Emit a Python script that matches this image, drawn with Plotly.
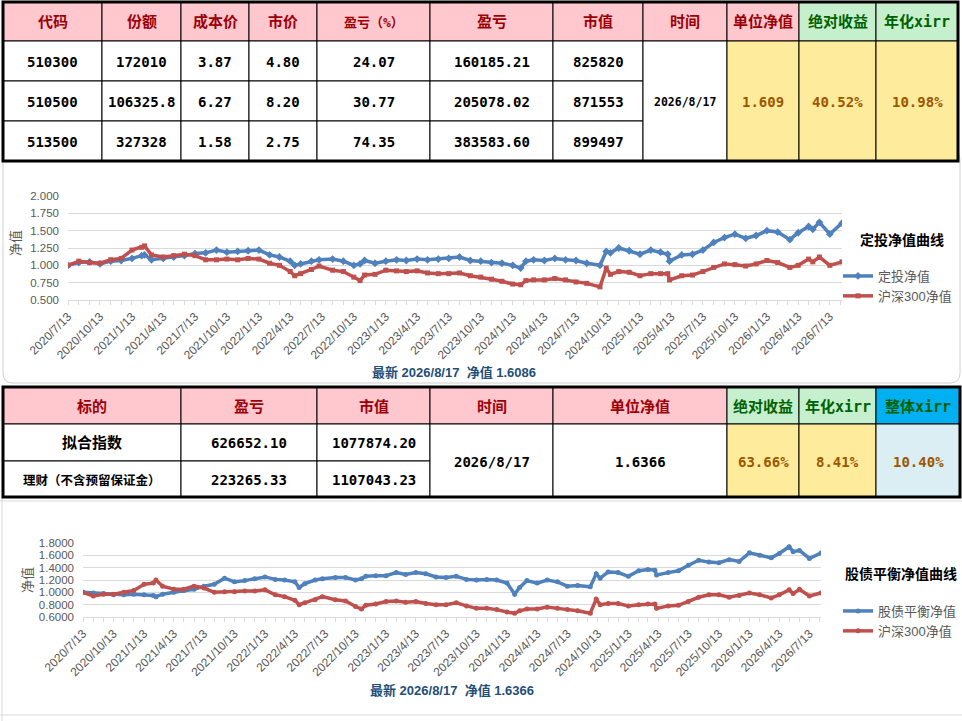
import pandas as pd
import plotly.graph_objects as go

W, H = 962, 721

# ---------------- top table ----------------
head_top = ["代码", "份额", "成本价", "市价", "盈亏（%）", "盈亏", "市值", "时间", "单位净值", "绝对收益", "年化xirr"]
codes = ["510300", "510500", "513500"]
shares = ["172010", "106325.8", "327328"]
cost_price = [3.87, 6.27, 1.58]
market_price = [4.80, 8.20, 2.75]
pnl_pct = [24.07, 30.77, 74.35]
pnl = [160185.21, 205078.02, 383583.60]
market_value = [825820, 871553, 899497]
latest_date = "2026/8/17"
unit_nav_top = "1.609"
abs_return_top = "40.52%"
xirr_top = "10.98%"

# ---------------- bottom table ----------------
head_bot = ["标的", "盈亏", "市值", "时间", "单位净值", "绝对收益", "年化xirr", "整体xirr"]
targets = ["拟合指数", "理财（不含预留保证金）"]
pnl_bot = [626652.10, 223265.33]
value_bot = [1077874.20, 1107043.23]
unit_nav_bot = "1.6366"
abs_return_bot = "63.66%"
xirr_bot = "8.41%"
xirr_total = "10.40%"

# ---------------- curves ----------------
dates = ["2020-07-13", "2020-08-13", "2020-09-13", "2020-10-13", "2020-11-13", "2020-12-13",
         "2021-01-13", "2021-02-10", "2021-02-18", "2021-03-10", "2021-04-13", "2021-05-13",
         "2021-06-13", "2021-07-13", "2021-08-13", "2021-09-13", "2021-10-13", "2021-11-13",
         "2021-12-13", "2022-01-13", "2022-02-13", "2022-03-13", "2022-04-13", "2022-04-26",
         "2022-05-13", "2022-06-13", "2022-07-05", "2022-08-13", "2022-09-13", "2022-10-13",
         "2022-10-31", "2022-11-13", "2022-12-13", "2023-01-13", "2023-02-13", "2023-03-13",
         "2023-04-13", "2023-05-13", "2023-06-13", "2023-07-13", "2023-08-13", "2023-09-13",
         "2023-10-13", "2023-11-13", "2023-12-13", "2024-01-13", "2024-02-05", "2024-02-20",
         "2024-03-13", "2024-04-13", "2024-05-13", "2024-06-13", "2024-07-13", "2024-08-13",
         "2024-09-20", "2024-10-08", "2024-10-20", "2024-11-13", "2024-12-13", "2025-01-13",
         "2025-02-13", "2025-03-13", "2025-04-03", "2025-04-08", "2025-05-13", "2025-06-13",
         "2025-07-13", "2025-08-13", "2025-09-13", "2025-10-13", "2025-11-13", "2025-12-13",
         "2026-01-13", "2026-02-13", "2026-03-20", "2026-04-13", "2026-05-13", "2026-05-25",
         "2026-06-13", "2026-07-13", "2026-08-17"]

dingtou_nav = [1.00, 1.04, 1.05, 1.02, 1.06, 1.07, 1.10, 1.14, 1.15, 1.08, 1.10, 1.12,
               1.14, 1.17, 1.18, 1.22, 1.19, 1.20, 1.21, 1.22, 1.15, 1.12, 1.06, 1.00,
               1.02, 1.06, 1.08, 1.09, 1.06, 1.00, 1.02, 1.07, 1.03, 1.06, 1.08, 1.07,
               1.09, 1.08, 1.09, 1.10, 1.12, 1.07, 1.06, 1.04, 1.03, 1.00, 0.96, 1.06,
               1.08, 1.07, 1.10, 1.08, 1.07, 1.03, 1.00, 1.20, 1.18, 1.25, 1.21, 1.16,
               1.22, 1.19, 1.16, 1.06, 1.15, 1.16, 1.22, 1.33, 1.40, 1.45, 1.39, 1.43,
               1.50, 1.48, 1.37, 1.47, 1.56, 1.52, 1.62, 1.45, 1.6086]

hs300_nav_a = [1.00, 1.06, 1.04, 1.03, 1.08, 1.10, 1.22, 1.26, 1.28, 1.15, 1.12, 1.14,
               1.16, 1.14, 1.08, 1.08, 1.09, 1.08, 1.10, 1.09, 1.03, 1.00, 0.91, 0.85,
               0.88, 0.94, 0.99, 0.93, 0.91, 0.83, 0.78, 0.86, 0.87, 0.93, 0.92, 0.91,
               0.92, 0.89, 0.88, 0.88, 0.89, 0.85, 0.83, 0.80, 0.77, 0.73, 0.72, 0.78,
               0.79, 0.79, 0.81, 0.79, 0.76, 0.74, 0.69, 0.96, 0.87, 0.91, 0.90, 0.85,
               0.88, 0.88, 0.88, 0.79, 0.85, 0.86, 0.91, 0.97, 1.02, 1.01, 0.99, 1.02,
               1.07, 1.04, 0.97, 1.00, 1.09, 1.05, 1.12, 1.00, 1.05]

balance_nav = [1.00, 0.99, 0.98, 0.96, 0.96, 0.97, 0.96, 0.95, 0.93, 0.97, 1.00, 1.03,
               1.05, 1.10, 1.13, 1.23, 1.17, 1.19, 1.22, 1.25, 1.21, 1.20, 1.17, 1.08,
               1.14, 1.20, 1.22, 1.24, 1.24, 1.20, 1.22, 1.26, 1.27, 1.27, 1.32, 1.29,
               1.32, 1.30, 1.25, 1.24, 1.26, 1.21, 1.20, 1.21, 1.20, 1.15, 0.97, 1.08,
               1.19, 1.15, 1.20, 1.17, 1.10, 1.11, 1.09, 1.30, 1.23, 1.33, 1.32, 1.26,
               1.35, 1.37, 1.36, 1.28, 1.32, 1.35, 1.44, 1.52, 1.49, 1.48, 1.53, 1.50,
               1.64, 1.60, 1.56, 1.63, 1.74, 1.66, 1.68, 1.55, 1.6366]

hs300_nav_b = [1.00, 0.94, 0.97, 0.97, 1.00, 1.03, 1.13, 1.15, 1.20, 1.10, 1.05, 1.05,
               1.10, 1.07, 1.00, 1.01, 1.01, 1.02, 1.02, 1.04, 0.96, 0.93, 0.87, 0.80,
               0.83, 0.88, 0.93, 0.88, 0.86, 0.77, 0.73, 0.79, 0.81, 0.85, 0.86, 0.84,
               0.85, 0.82, 0.80, 0.80, 0.83, 0.78, 0.74, 0.74, 0.72, 0.68, 0.66, 0.70,
               0.73, 0.73, 0.76, 0.74, 0.72, 0.70, 0.66, 0.89, 0.80, 0.82, 0.82, 0.78,
               0.80, 0.81, 0.81, 0.74, 0.78, 0.79, 0.85, 0.92, 0.96, 0.96, 0.92, 0.95,
               0.99, 0.96, 0.91, 0.96, 1.04, 0.98, 1.05, 0.94, 0.99]

tick_labels = ["2020/7/13", "2020/10/13", "2021/1/13", "2021/4/13", "2021/7/13", "2021/10/13",
               "2022/1/13", "2022/4/13", "2022/7/13", "2022/10/13", "2023/1/13", "2023/4/13",
               "2023/7/13", "2023/10/13", "2024/1/13", "2024/4/13", "2024/7/13", "2024/10/13",
               "2025/1/13", "2025/4/13", "2025/7/13", "2025/10/13", "2026/1/13", "2026/4/13",
               "2026/7/13"]
tick_vals = pd.to_datetime(tick_labels, format="%Y/%m/%d")

BLUE = "#4F81BD"
RED = "#C0504D"
PINK, PINK_TXT = "#FFC7CE", "#9C0006"
GREEN, GREEN_TXT = "#C6EFCE", "#006100"
YELLOW, YELLOW_TXT = "#FFEB9C", "#9C5700"
TFONT = "DejaVu Sans Mono, Noto Sans CJK SC"
CFONT = "Liberation Sans, Noto Sans CJK SC"


def X(p):
    return p / W


def Y(p):
    return 1 - p / H


shapes = []
annos = []


def cell(x0, x1, y0, y1, fill="white", lw=1, color="black"):
    shapes.append(dict(type="rect", xref="paper", yref="paper", x0=X(x0), x1=X(x1),
                       y0=Y(y1), y1=Y(y0), fillcolor=fill, line=dict(color=color, width=lw)))


def text(x, y, s, size=15, color="black", family=TFONT, bold=True, angle=0):
    annos.append(dict(xref="paper", yref="paper", x=X(x), y=Y(y), showarrow=False,
                      text="<b>%s</b>" % s if bold else s, textangle=angle,
                      font=dict(size=size, color=color, family=family),
                      xanchor="center", yanchor="middle"))


# rounded frame of the first chart
def rounded(x0, y0, x1, y1, r):
    rx, ry = r / W, r / H
    a, b, c, d = X(x0), X(x1), Y(y1), Y(y0)
    return (f"M {a+rx},{d} L {b-rx},{d} Q {b},{d} {b},{d-ry} L {b},{c+ry} Q {b},{c} {b-rx},{c} "
            f"L {a+rx},{c} Q {a},{c} {a},{c+ry} L {a},{d-ry} Q {a},{d} {a+rx},{d} Z")


shapes.append(dict(type="path", xref="paper", yref="paper", path=rounded(3, 150, 960, 383, 10),
                   line=dict(color="#D0D0D0", width=1)))

# sheet gridlines around the second chart
for yy in [501, 715]:
    shapes.append(dict(type="line", xref="paper", yref="paper", x0=0, x1=1, y0=Y(yy), y1=Y(yy),
                       line=dict(color="#D9D9D9", width=1)))
shapes.append(dict(type="line", xref="paper", yref="paper", x0=X(2), x1=X(2), y0=Y(498), y1=0,
                   line=dict(color="#D9D9D9", width=1)))

# ---------------- draw top table ----------------
col_top = [3, 102, 181, 249, 317, 430, 553, 643, 727, 799, 876, 958]
row_top = [2, 41, 81, 121, 161]
for i, h in enumerate(head_top):
    green = i >= 9
    cell(col_top[i], col_top[i + 1], row_top[0], row_top[1], GREEN if green else PINK)
    text((col_top[i] + col_top[i + 1]) / 2, (row_top[0] + row_top[1]) / 2 + 1, h,
         size=13 if h == "盈亏（%）" else 15, color=GREEN_TXT if green else PINK_TXT)

body_top = [codes, shares, ["%.2f" % v for v in cost_price], ["%.2f" % v for v in market_price],
            ["%.2f" % v for v in pnl_pct], ["%.2f" % v for v in pnl], [str(v) for v in market_value]]
for j, col in enumerate(body_top):
    for r, v in enumerate(col):
        cell(col_top[j], col_top[j + 1], row_top[r + 1], row_top[r + 2])
        text((col_top[j] + col_top[j + 1]) / 2, (row_top[r + 1] + row_top[r + 2]) / 2 + 1, v, size=14)

merged_top = [(latest_date, "white", "black", 11.5), (unit_nav_top, YELLOW, YELLOW_TXT, 14),
              (abs_return_top, YELLOW, YELLOW_TXT, 14), (xirr_top, YELLOW, YELLOW_TXT, 14)]
for k, (v, fill, tc, sz) in enumerate(merged_top):
    j = 7 + k
    cell(col_top[j], col_top[j + 1], row_top[1], row_top[4], fill)
    text((col_top[j] + col_top[j + 1]) / 2, (row_top[1] + row_top[4]) / 2 + 1, v, size=sz, color=tc)
cell(col_top[0], col_top[-1], row_top[0], row_top[-1], "rgba(0,0,0,0)", lw=3)

# ---------------- draw bottom table ----------------
col_bot = [3, 181, 317, 430, 553, 727, 799, 876, 960]
row_bot = [387, 424, 461, 497]
head_fill = [PINK] * 5 + [GREEN, GREEN, "#00B0F0"]
for i, h in enumerate(head_bot):
    cell(col_bot[i], col_bot[i + 1], row_bot[0], row_bot[1], head_fill[i])
    text((col_bot[i] + col_bot[i + 1]) / 2, (row_bot[0] + row_bot[1]) / 2 + 1, h, size=15,
         color=PINK_TXT if i < 5 else GREEN_TXT)

body_bot = [targets, ["%.2f" % v for v in pnl_bot], ["%.2f" % v for v in value_bot]]
for j, col in enumerate(body_bot):
    for r, v in enumerate(col):
        cell(col_bot[j], col_bot[j + 1], row_bot[r + 1], row_bot[r + 2])
        sz = 14
        if j == 0:
            sz = 15 if r == 0 else 12.5
        text((col_bot[j] + col_bot[j + 1]) / 2, (row_bot[r + 1] + row_bot[r + 2]) / 2 + 1, v, size=sz)

merged_bot = [(latest_date, "white", "black"), (unit_nav_bot, "white", "black"),
              (abs_return_bot, YELLOW, YELLOW_TXT), (xirr_bot, YELLOW, YELLOW_TXT),
              (xirr_total, "#DAEEF3", YELLOW_TXT)]
for k, (v, fill, tc) in enumerate(merged_bot):
    j = 3 + k
    cell(col_bot[j], col_bot[j + 1], row_bot[1], row_bot[3], fill)
    text((col_bot[j] + col_bot[j + 1]) / 2, (row_bot[1] + row_bot[3]) / 2 + 1, v, size=14, color=tc)
cell(col_bot[0], col_bot[-1], row_bot[0], row_bot[-1], "rgba(0,0,0,0)", lw=3)

# ---------------- chart texts ----------------
text(15, 243, "净值", size=13, color="#595959", family=CFONT, bold=False, angle=-90)
text(27, 580, "净值", size=13, color="#595959", family=CFONT, bold=False, angle=-90)
text(902, 240, "定投净值曲线", size=14, color="black", family=CFONT)
text(901, 574, "股债平衡净值曲线", size=14, color="black", family=CFONT)
text(454, 372, "最新 %s  净值 %.4f" % (latest_date, dingtou_nav[-1]), size=13, color="#1F4E79", family=CFONT)
text(452, 690, "最新 %s  净值 %.4f" % (latest_date, balance_nav[-1]), size=13, color="#1F4E79", family=CFONT)

# ---------------- traces ----------------
fig = go.Figure()
fig.add_trace(go.Scatter(x=dates, y=dingtou_nav, name="定投净值", mode="lines+markers",
                         line=dict(color=BLUE, width=3.5), marker=dict(symbol="diamond", size=6),
                         xaxis="x", yaxis="y", legend="legend"))
fig.add_trace(go.Scatter(x=dates, y=hs300_nav_a, name="沪深300净值", mode="lines+markers",
                         line=dict(color=RED, width=3.5), marker=dict(symbol="square", size=5),
                         xaxis="x", yaxis="y", legend="legend"))
fig.add_trace(go.Scatter(x=dates, y=balance_nav, name="股债平衡净值", mode="lines+markers",
                         line=dict(color=BLUE, width=3.5), marker=dict(symbol="circle", size=5),
                         xaxis="x2", yaxis="y2", legend="legend2"))
fig.add_trace(go.Scatter(x=dates, y=hs300_nav_b, name="沪深300净值", mode="lines+markers",
                         line=dict(color=RED, width=3.5), marker=dict(symbol="circle", size=5),
                         xaxis="x2", yaxis="y2", legend="legend2"))

xcommon = dict(type="date", tickvals=tick_vals, ticktext=tick_labels, tickangle=-45,
               showgrid=False, zeroline=False, showline=True, linecolor="#D9D9D9",
               ticks="outside", ticklen=4, tickcolor="#D9D9D9", automargin=False,
               minor=dict(ticks="outside", ticklen=4, tickcolor="#D9D9D9", dtick="M1", tick0="2020-07-13"),
               tickfont=dict(size=12, color="#595959", family=CFONT),
               range=["2020-07-13", "2026-08-17"])
ycommon = dict(showgrid=True, gridcolor="#D9D9D9", zeroline=False, showline=False, automargin=False,
               tickfont=dict(size=11.5, color="#595959", family=CFONT), ticks="", ticklabelstandoff=8)

fig.update_layout(
    width=W, height=H, margin=dict(l=0, r=0, t=0, b=0, autoexpand=False),
    paper_bgcolor="white", plot_bgcolor="rgba(0,0,0,0)",
    xaxis=dict(domain=[X(68), X(842)], anchor="y", **xcommon),
    yaxis=dict(domain=[Y(300), Y(196)], anchor="x", range=[0.5, 2.0], dtick=0.25, tick0=0.5,
               tickformat=".3f", **ycommon),
    xaxis2=dict(domain=[X(83), X(821)], anchor="y2", **xcommon),
    yaxis2=dict(domain=[Y(617), Y(543)], anchor="x2", range=[0.6, 1.8], dtick=0.2, tick0=0.6,
                tickformat=".4f", **ycommon),
    legend=dict(x=X(838), y=Y(261), xanchor="left", yanchor="top", bgcolor="rgba(0,0,0,0)",
                font=dict(size=13, color="#595959", family=CFONT), itemwidth=30),
    legend2=dict(x=X(838), y=Y(596), xanchor="left", yanchor="top", bgcolor="rgba(0,0,0,0)",
                 font=dict(size=13, color="#595959", family=CFONT), itemwidth=30),
    shapes=shapes, annotations=annos,
)

fig.write_html("out.html", config={"displayModeBar": False},
               post_script="document.body.style.margin='0';document.body.style.overflow='hidden';")
